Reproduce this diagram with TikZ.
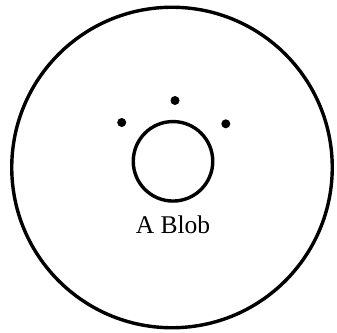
\documentclass[tikz,border=0pt]{standalone}
\usepackage{fontspec}
\setmainfont{Liberation Serif}
\begin{document}
\begin{tikzpicture}[x=1pt,y=-1pt,
  ring/.style={draw=black,line width=3.4pt,circle,inner sep=0pt},
  dot/.style={fill=black,circle,inner sep=0pt,minimum size=9pt},
  lbl/.style={font=\fontsize{25.5}{25.5}\selectfont,inner sep=0pt,anchor=base}]
\useasboundingbox (0,0) rectangle (337,332);
\node[ring,minimum size=320.5pt] (outer) at (172,167.5) {};
\node[ring,minimum size=79.5pt] (blob) at (173,161.3) {};
\node[dot] (d1) at (121.7,122.5) {};
\node[dot] (d2) at (175,100.5) {};
\node[dot] (d3) at (225.8,123.8) {};
\node[lbl] (label) at (173,233) {A Blob};
\end{tikzpicture}
\end{document}
